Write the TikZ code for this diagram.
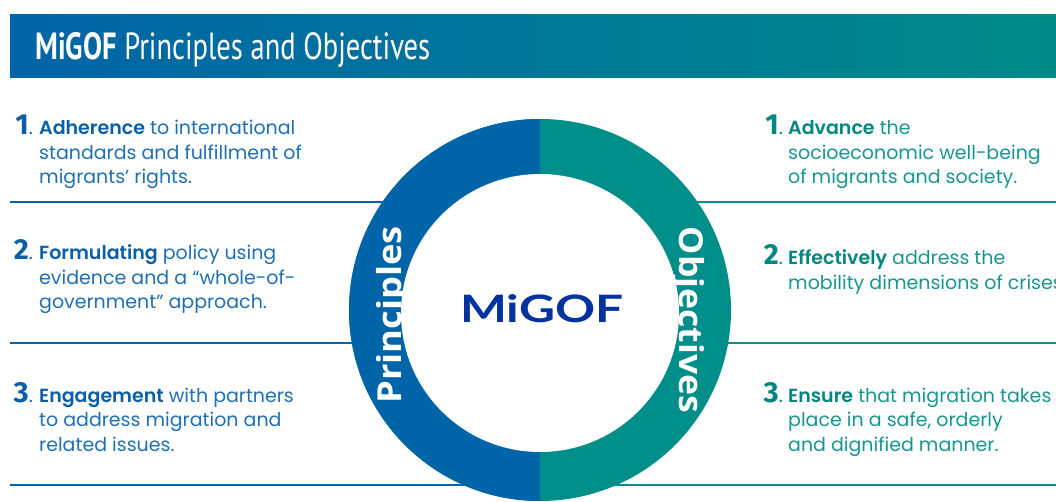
\documentclass[tikz,border=0pt]{standalone}
\usepackage{fontspec}
\setmainfont{Poppins}[BoldFont={Poppins SemiBold}]
\newfontfamily\titlefont{PT Sans}
\newfontfamily\ringfont{Open Sans}
\newfontfamily\numfont{Fira Sans}
\newfontfamily\logofont{Lato}
\definecolor{banL}{HTML}{0064A8}
\definecolor{banR}{HTML}{008B89}
\definecolor{ringL}{HTML}{0065A8}
\definecolor{ringR}{HTML}{008E8B}
\definecolor{txtL}{HTML}{1F6FB4}
\definecolor{boldL}{HTML}{0B5FA7}
\definecolor{txtR}{HTML}{17968F}
\definecolor{boldR}{HTML}{008681}
\definecolor{logoblue}{HTML}{0033A0}
\begin{document}
\begin{tikzpicture}[x=1pt,y=-1pt,
  bodyL/.style={anchor=base west, inner sep=0, text=txtL, font=\fontsize{19}{24.5}\selectfont},
  bodyR/.style={anchor=base west, inner sep=0, text=txtR, font=\fontsize{19}{24.5}\selectfont},
  numL/.style={anchor=base east, inner sep=0, text=boldL, font=\fontsize{19}{24.5}\selectfont},
  numR/.style={anchor=base east, inner sep=0, text=boldR, font=\fontsize{19}{24.5}\selectfont},
  lineL/.style={draw=ringL, line width=2.6pt},
  lineR/.style={draw=ringR, line width=2.6pt},
  ringtext/.style={anchor=base, inner sep=0, text=white, font=\ringfont\bfseries\fontsize{33}{33}\selectfont}
]
\newcommand\bigno[1]{{\numfont\bfseries\fontsize{29}{29}\selectfont #1}}
\newcommand\bl[1]{{\bfseries\color{boldL}#1}}
\newcommand\br[1]{{\bfseries\color{boldR}#1}}
\useasboundingbox (0,0) rectangle (1056,502);

% banner
\shade[left color=banL, right color=banR] (10,15) rectangle (1056,78);
\node[anchor=base west, inner sep=0, text=white] (title) at (35,60)
  {\resizebox{395pt}{27pt}{\titlefont\fontsize{30}{30}\selectfont\textbf{MiGOF} Principles and Objectives}};

% separator lines
\foreach \yy in {202,343,485} {
  \coordinate (l\yy) at (10,\yy);
  \coordinate (m\yy) at (540,\yy);
  \coordinate (r\yy) at (1056,\yy);
  \draw[lineL] (l\yy) -- (m\yy);
  \draw[lineR] (m\yy) -- (r\yy);
}

% ring
\coordinate (oc) at (540,310);
\coordinate (ic) at (540,313);
\fill[ringR] (oc) circle (191);
\begin{scope}
  \clip (oc) circle (191);
  \fill[ringL] (340,110) rectangle (540,510);
\end{scope}
\fill[white] (ic) circle (139);

\node[ringtext, rotate=90] (princ) at (401,315) {\scalebox{1.1}[1]{Principles}};
\node[ringtext, rotate=-90] (obj) at (679,320) {\scalebox{1.08}[1]{Objectives}};
\node[anchor=base west, inner sep=0, text=logoblue] (migof) at (460,323)
  {\resizebox{163pt}{28pt}{\logofont\bfseries MiGOF}};

% left items
\node[numL] (nl1) at (33,135) {\bigno{1}.};
\node[bodyL] (tl1) at (39,135) {\vtop{\hbox{\bl{Adherence} to international}\hbox{standards and fulfillment of}\hbox{migrants' rights.}}};
\node[numL] (nl2) at (33,260) {\bigno{2}.};
\node[bodyL] (tl2) at (39,260) {\vtop{\hbox{\bl{Formulating} policy using}\hbox{evidence and a “whole-of-}\hbox{government” approach.}}};
\node[numL] (nl3) at (33,402) {\bigno{3}.};
\node[bodyL] (tl3) at (39,402) {\vtop{\hbox{\bl{Engagement} with partners}\hbox{to address migration and}\hbox{related issues.}}};

% right items
\node[numR] (nr1) at (783,135) {\bigno{1}.};
\node[bodyR] (tr1) at (788,135) {\vtop{\hbox{\br{Advance} the}\hbox{socioeconomic well-being}\hbox{of migrants and society.}}};
\node[numR] (nr2) at (783,265) {\bigno{2}.};
\node[bodyR] (tr2) at (788,265) {\vtop{\hbox{\br{Effectively} address the}\hbox{mobility dimensions of crises.}}};
\node[numR] (nr3) at (783,402) {\bigno{3}.};
\node[bodyR] (tr3) at (788,402) {\vtop{\hbox{\br{Ensure} that migration takes}\hbox{place in a safe, orderly}\hbox{and dignified manner.}}};
\end{tikzpicture}
\end{document}
